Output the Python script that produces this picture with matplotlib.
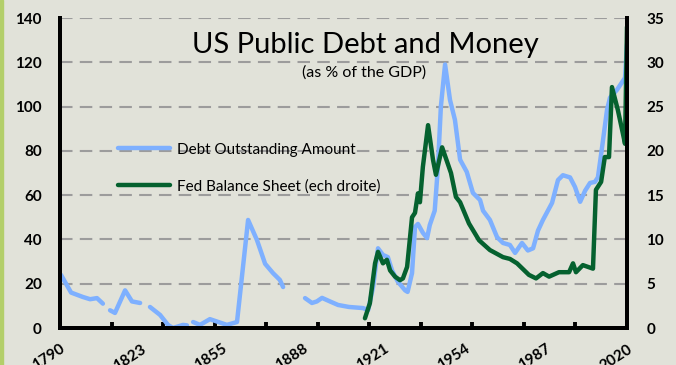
import numpy as np
import matplotlib
matplotlib.use("Agg")
import matplotlib.pyplot as plt
from matplotlib.patches import Rectangle

plt.rcParams['font.family'] = ['Lato', 'DejaVu Sans']

# Debt outstanding, % of GDP (left axis); NaN = gap in the series
debt_years = [1790.4, 1794.5, 1799.3, 1802.2, 1805.0, 1807.4, 1809.0,
              1810.3, 1812.3, 1816.4, 1819.2, 1822.5, 1824.0,
              1826.5, 1830.6, 1833.8, 1835.8, 1839.9, 1841.5, 1843.0,
              1844.0, 1846.8, 1850.8, 1857.7, 1861.8, 1866.3, 1869.9,
              1873.2, 1876.4, 1879.2, 1880.5, 1885.0,
              1889.4, 1892.2, 1894.2, 1896.3, 1899.5, 1902.8, 1907.2,
              1912.9, 1915.0, 1917.0, 1919.0, 1921.0, 1923.0, 1924.7,
              1927.0, 1930.0, 1931.0, 1932.8, 1934.0, 1935.2, 1937.2,
              1938.9, 1940.0, 1942.0, 1943.3, 1944.5, 1946.2, 1948.2,
              1950.2, 1952.3, 1955.0, 1957.5, 1960.4, 1961.6, 1964.4,
              1967.3, 1969.7, 1972.5, 1974.6, 1977.4, 1979.8, 1981.9,
              1983.9, 1985.9, 1989.6, 1992.0, 1994.0, 1996.9, 1998.9,
              2001.0, 2003.0, 2005.0, 2007.0, 2008.2, 2009.9, 2011.9,
              2013.1, 2015.9, 2018.0, 2019.2, 2020.0]
debt_values = [24.0, 16.0, 14.0, 13.0, 13.5, 11.0, np.nan,
               8.0, 6.8, 17.0, 12.0, 11.3, np.nan,
               9.5, 5.9, 1.4, 0.0, 1.4, 1.2, np.nan,
               2.7, 1.4, 4.0, 1.4, 2.7, 48.8, 39.7,
               29.0, 24.8, 21.7, 18.5, np.nan,
               13.5, 11.3, 12.0, 13.6, 12.0, 10.4, 9.5,
               9.0, 8.1, 18.5, 36.0, 33.0, 32.0, 26.0,
               21.0, 17.0, 16.3, 24.8, 45.6, 47.0, 43.0,
               40.6, 46.5, 53.0, 72.7, 100.0, 119.0, 103.0,
               94.0, 76.0, 70.5, 61.0, 57.8, 53.0, 48.8,
               41.0, 38.4, 37.5, 33.9, 38.4, 35.0, 36.0,
               44.0, 48.8, 56.5, 66.8, 69.0, 68.0, 63.7,
               57.0, 62.0, 65.5, 66.0, 68.0, 81.7, 98.5,
               104.0, 107.5, 111.0, 113.0, 128.0]

# Fed balance sheet, % of GDP (right axis)
fed_years = [1913.7, 1915.7, 1917.8, 1919.0, 1921.0, 1922.6, 1923.9,
             1925.9, 1927.9, 1929.1, 1930.8, 1932.8, 1934.0, 1935.2,
             1936.0, 1937.2, 1939.3, 1941.3, 1942.5, 1945.0, 1948.6,
             1950.6, 1952.3, 1955.9, 1960.0, 1964.4, 1969.7, 1972.5,
             1975.4, 1980.2, 1983.1, 1985.9, 1988.4, 1992.4, 1996.5,
             1998.1, 1999.3, 2002.1, 2006.2, 2007.4, 2009.5, 2011.0,
             2012.7, 2013.9, 2016.3, 2018.3, 2019.2, 2020.0]
fed_values = [1.1, 2.8, 7.3, 8.6, 7.3, 7.7, 6.5,
              5.8, 5.4, 5.6, 6.9, 12.5, 13.0, 15.2,
              14.2, 18.2, 22.9, 19.0, 17.3, 20.4, 17.5,
              14.8, 14.2, 11.8, 9.9, 8.8, 8.0, 7.8,
              7.3, 6.0, 5.6, 6.2, 5.8, 6.3, 6.3,
              7.3, 6.3, 7.1, 6.7, 15.6, 16.5, 19.3,
              19.3, 27.2, 24.6, 22.0, 20.8, 34.0]

year_labels = ['1790', '1823', '1855', '1888', '1921', '1954', '1987', '2020']
left_ticks = [0, 20, 40, 60, 80, 100, 120, 140]
right_ticks = [0, 5, 10, 15, 20, 25, 30, 35]

bg = '#E1E2D9'
blue = '#7EB0FF'
green = '#05612F'

fig = plt.figure(figsize=(6.76, 3.65), dpi=100, facecolor=bg)
fig.patches.append(Rectangle((0, 0), 3 / 676, 1, transform=fig.transFigure,
                             color='#B3CF6A', zorder=0))
ax = fig.add_axes([60 / 676, 37 / 365, 567 / 676, 310 / 365])
ax.set_facecolor(bg)
ax2 = ax.twinx()

l1, = ax.plot(debt_years, debt_values, color=blue, lw=3.2,
              solid_joinstyle='round', solid_capstyle='round',
              label='Debt Outstanding Amount')
l2, = ax2.plot(fed_years, fed_values, color=green, lw=3.2,
               solid_joinstyle='round', solid_capstyle='round',
               label='Fed Balance Sheet (ech droite)')

ax.set_xlim(1790, 2020)
ax.set_ylim(0, 140)
ax2.set_ylim(0, 35)

ax.yaxis.grid(True, color='#9C9C9C', lw=1.5, linestyle=(0, (6, 3.5)))
ax.set_axisbelow(True)

for a in (ax, ax2):
    a.spines['top'].set_visible(False)
    for s in ('left', 'right', 'bottom'):
        a.spines[s].set_linewidth(2.8)
        a.spines[s].set_color('black')

ax.set_yticks(left_ticks)
ax.set_yticklabels([str(t) for t in left_ticks], fontweight='bold', fontsize=11)
ax.tick_params(axis='y', length=0, pad=13)
ax2.set_yticks(right_ticks)
ax2.set_yticklabels([str(t) for t in right_ticks], fontweight='bold', fontsize=11)
ax2.tick_params(axis='y', length=0, pad=14)

# tick marks every 1/11 of the span, labels every 1/7
ax.xaxis.remove_overlapping_locs = False
ax.set_xticks(np.linspace(1790, 2020, 12))
ax.set_xticklabels([])
ax.tick_params(axis='x', which='major', direction='in', length=4, width=2.8)
ax.set_xticks(np.linspace(1790, 2020, len(year_labels)), minor=True)
ax.set_xticklabels(year_labels, minor=True, rotation=33, ha='right', va='top',
                   rotation_mode='anchor', fontweight='bold', fontsize=11)
ax.tick_params(axis='x', which='minor', length=0, pad=10)

fig.text(365 / 676, 1 - 45 / 365, 'US Public Debt and Money', ha='center',
         va='center', fontsize=21)
fig.text(364 / 676, 1 - 73 / 365, '(as % of the GDP)', ha='center',
         va='center', fontsize=11.5)

fig.legend(handles=[l1, l2], loc='upper left',
           bbox_to_anchor=(104 / 676, 1 - 129 / 365), frameon=False,
           fontsize=11, handlelength=3.4, handletextpad=0.5,
           labelspacing=1.45)

fig.savefig('out.png', dpi=100, facecolor=bg)
